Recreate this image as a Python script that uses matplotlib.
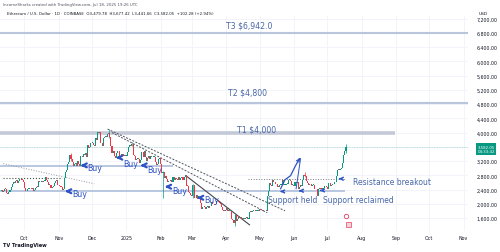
import matplotlib
matplotlib.use('Agg')
import matplotlib.pyplot as plt
import matplotlib.dates as mdates
import numpy as np
import pandas as pd

# ETH/USD daily closes, Sep 10 2024 - Jul 18 2025
sep24 = [2388, 2340, 2360, 2420, 2415, 2315, 2275, 2340, 2375, 2465, 2560, 2615, 2580, 2645, 2655, 2580, 2630, 2695, 2680, 2660, 2600]
oct24 = [2450, 2365, 2350, 2415, 2415, 2440, 2420, 2440, 2370, 2385, 2440, 2475, 2470, 2630, 2605, 2610, 2605, 2645, 2650, 2745,
         2665, 2620, 2525, 2535, 2435, 2480, 2505, 2570, 2640, 2665, 2520]
nov24 = [2515, 2490, 2460, 2400, 2425, 2720, 2895, 2960, 3130, 3185, 3370, 3245, 3185, 3060, 3110, 3135, 3075, 3205, 3105, 3070,
         3355, 3325, 3395, 3360, 3415, 3325, 3655, 3575, 3590, 3705]
dec24 = [3710, 3645, 3615, 3835, 3790, 4005, 4000, 4005, 3710, 3630, 3835, 3880, 3905, 3875, 3960, 3985, 3890, 3625, 3420, 3475,
         3330, 3280, 3420, 3490, 3475, 3330, 3330, 3400, 3350, 3360, 3335]
jan25 = [3355, 3450, 3605, 3655, 3635, 3685, 3380, 3330, 3220, 3270, 3280, 3265, 3135, 3225, 3450, 3310, 3475, 3310, 3215, 3280,
         3330, 3245, 3340, 3310, 3320, 3320, 3185, 3080, 3115, 3245, 3300]
feb25 = [3120, 2870, 2880, 2730, 2785, 2690, 2625, 2630, 2630, 2660, 2605, 2745, 2680, 2725, 2695, 2665, 2740, 2675, 2720, 2740,
         2665, 2765, 2820, 2505, 2495, 2330, 2310, 2235]
mar25 = [2215, 2520, 2150, 2175, 2240, 2140, 2205, 2205, 2020, 1865, 1920, 1910, 1865, 1910, 1935, 1890, 1925, 1930, 2055, 1985,
         1965, 1985, 2085, 2080, 2060, 2010, 2000, 1895, 1825, 1805, 1825]
apr25 = [1905, 1795, 1815, 1805, 1805, 1580, 1555, 1470, 1670, 1520, 1565, 1645, 1595, 1625, 1585, 1580, 1585, 1590, 1615, 1585,
         1585, 1755, 1795, 1770, 1785, 1820, 1795, 1800, 1800, 1795]
may25 = [1840, 1840, 1835, 1810, 1815, 1815, 1810, 2205, 2345, 2580, 2515, 2500, 2680, 2610, 2545, 2545, 2480, 2470, 2525, 2530,
         2550, 2665, 2525, 2530, 2550, 2565, 2660, 2680, 2630, 2530, 2530]
jun25 = [2505, 2605, 2590, 2610, 2420, 2485, 2525, 2510, 2680, 2815, 2770, 2645, 2580, 2525, 2545, 2550, 2510, 2525, 2525, 2410,
         2405, 2230, 2405, 2450, 2420, 2415, 2425, 2435, 2505, 2485]
jul25 = [2405, 2570, 2590, 2500, 2515, 2550, 2545, 2615, 2770, 2955, 2960, 2945, 2970, 3010, 3135, 3370, 3480, 3582]
first_open = 2360

# a few visible wicks
wick_dates = ['2024-11-12', '2024-12-16', '2025-01-06', '2025-02-03', '2025-03-02', '2025-04-09', '2025-06-11', '2025-07-18']
wick_lows = [3200, 3850, 3620, 2150, 2170, 1385, 2740, 3440]
wick_highs = [3440, 4107, 3745, 2920, 2550, 1690, 2880, 3677]

# levels: (label, price, start, end)
level_names = ['T3', 'T2', 'T1', 'sup_hi', 'sup_lo']
level_prices = [6810, 4830, 4000, 3050, 2347]
level_start = ['2024-09-09', '2024-09-09', '2024-09-09', '2024-09-09', '2024-09-09']
level_end = ['2025-11-05', '2025-11-05', '2025-08-31', '2025-02-12', '2025-07-17']

target_labels = ['T3 $6,942.0', 'T2 $4,800', 'T1 $4,000']
target_dates = ['2025-04-22', '2025-04-20', '2025-04-28']
target_prices = [7014, 5155, 4113]

buy_dates = ['2024-11-04', '2024-11-18', '2024-12-20', '2025-01-11', '2025-02-02', '2025-03-03']
buy_prices = [2352, 3079, 3296, 3079, 2479, 2169]
buy_text_prices = [2282, 3014, 3141, 2972, 2380, 2127]

sr_arrow_dates = ['2025-05-17', '2025-06-03', '2025-06-22', '2025-07-09']
sr_arrow_prices = [2346, 2366, 2375, 2704]
sr_labels = ['Support held', 'Support reclaimed', 'Resistance breakout']
sr_dates = ['2025-05-09', '2025-06-27', '2025-07-24']
sr_prices = [2121, 2121, 2620]

# trend lines ((date, price), (date, price), style)
trend_lines = [
    (('2024-09-12', 3127), ('2024-12-03', 2563), ':', '#9598a1', 0.7),
    (('2024-09-12', 2732), ('2024-11-04', 2732), ':', '#3d5a3d', 0.8),
    (('2024-12-15', 4099), ('2025-05-24', 1803), (0, (2, 1.5)), '#50535e', 0.7),
    (('2024-12-19', 4000), ('2025-05-08', 1746), (0, (2, 1.5)), '#50535e', 0.7),
    (('2025-02-24', 2780), ('2025-04-22', 1408), '-', '#434651', 0.8),
    (('2025-04-21', 2696), ('2025-07-18', 2696), ':', '#787b86', 0.7),
]

proj_dates = ['2025-05-20', '2025-05-24', '2025-05-29', '2025-06-02', '2025-06-06']
proj_prices = [2422, 2676, 2789, 3042, 3268]
proj_back = ['2025-06-03', 2422]

month_ticks = pd.date_range('2024-10-01', '2025-11-01', freq='MS')
month_labels = ['Oct', 'Nov', 'Dec', '2025', 'Feb', 'Mar', 'Apr', 'May', 'Jun', 'Jul', 'Aug', 'Sep', 'Oct', 'Nov']
price_ticks = [1600, 2000, 2400, 2800, 3200, 4000, 4400, 4800, 5200, 5600, 6000, 6400, 6800, 7200]
last_price = 3582.05

closes = np.array(sep24 + oct24 + nov24 + dec24 + jan25 + feb25 + mar25 + apr25 + may25 + jun25 + jul25, dtype=float)
dates = pd.date_range('2024-09-10', periods=len(closes), freq='D')
opens = np.concatenate([[first_open], closes[:-1]])
xd = mdates.date2num(dates)

up_col = '#089981'
dn_col = '#f23645'
blue = '#2f52c4'
steel = '#4866a8'

fig = plt.figure(figsize=(5, 2.53), dpi=100)
fig.patch.set_facecolor('white')
ax = fig.add_axes([0, 21 / 253, 468 / 500, 215 / 253])
ax.set_facecolor('white')

x0 = mdates.date2num(pd.Timestamp('2024-09-09'))
x1 = mdates.date2num(pd.Timestamp('2025-11-05'))
ax.set_xlim(x0, x1)
ax.set_ylim(1234, 7279)

# grid
for t in month_ticks:
    ax.axvline(mdates.date2num(t), color='#f0f3fa', lw=0.6, zorder=0)
for p in price_ticks + [3600]:
    ax.axhline(p, color='#f0f3fa', lw=0.6, zorder=0)

# levels
for name, p, s, e in zip(level_names, level_prices, level_start, level_end):
    xs = [mdates.date2num(pd.Timestamp(s)), mdates.date2num(pd.Timestamp(e))]
    if name == 'T1':
        ax.plot(xs, [p, p], color='#c3c9d6', lw=2.6, solid_capstyle='butt', zorder=1)
    elif name.startswith('T'):
        ax.plot(xs, [p, p], color='#b9c5da', lw=1.5, solid_capstyle='butt', zorder=1)
    else:
        ax.plot(xs, [p, p], color='#a7b8d8', lw=1.1, solid_capstyle='butt', zorder=1)

# last price line
ax.axhline(last_price, color='#a6d8cf', lw=0.6, ls=(0, (1, 1)), zorder=1)

for (d0, p0), (d1, p1), ls, col, lw in trend_lines:
    ax.plot([mdates.date2num(pd.Timestamp(d0)), mdates.date2num(pd.Timestamp(d1))], [p0, p1],
            ls=ls, color=col, lw=lw, zorder=2)

# candles
colors = np.where(closes >= opens, up_col, dn_col)
wx = mdates.date2num(pd.to_datetime(wick_dates))
for d, lo, hi in zip(wx, wick_lows, wick_highs):
    i = int(round(d - xd[0]))
    ax.vlines(d, lo, hi, color=colors[i], lw=0.5, zorder=3)
bottoms = np.minimum(opens, closes)
heights = np.maximum(np.abs(closes - opens), 22)
ax.bar(xd, heights, bottom=bottoms, width=0.95, color=colors, linewidth=0, zorder=3)

# projection path
px = mdates.date2num(pd.to_datetime(proj_dates))
ax.plot(px, proj_prices, color=blue, lw=0.9, zorder=4)
ax.annotate('', xy=(px[-1] + 0.5, proj_prices[-1] + 20), xytext=(px[-2] + 2, proj_prices[-2] + 120),
            arrowprops=dict(arrowstyle='->', color=blue, lw=0.9, mutation_scale=5), zorder=4)
ax.plot([px[-1] + 1, mdates.date2num(pd.Timestamp(proj_back[0]))], [proj_prices[-1], proj_back[1]],
        color=blue, lw=0.7, zorder=4)

# targets
for lab, d, p in zip(target_labels, target_dates, target_prices):
    ax.text(mdates.date2num(pd.Timestamp(d)), p, lab, color=steel, fontsize=5.6, ha='center', va='center', zorder=5)

# buy arrows
for d, p, tp in zip(buy_dates, buy_prices, buy_text_prices):
    xt = mdates.date2num(pd.Timestamp(d))
    ax.annotate('', xy=(xt, p), xytext=(xt + 8.5, p),
                arrowprops=dict(arrowstyle='->', color=blue, lw=1.6, mutation_scale=7), zorder=5)
    ax.text(xt + 9, tp, 'Buy', color=blue, fontsize=5.7, ha='left', va='center', zorder=5)

for d, p in zip(sr_arrow_dates, sr_arrow_prices):
    xt = mdates.date2num(pd.Timestamp(d))
    ax.annotate('', xy=(xt, p), xytext=(xt + 6, p),
                arrowprops=dict(arrowstyle='->', color=blue, lw=1.1, mutation_scale=5), zorder=5)

for lab, d, p in zip(sr_labels, sr_dates, sr_prices):
    ax.text(mdates.date2num(pd.Timestamp(d)), p, lab, color=steel, fontsize=5.5, ha='left', va='center', zorder=5)

# event markers
ev = mdates.date2num(pd.Timestamp('2025-07-18'))
ax.plot(ev, 1662, 'o', ms=3.2, mfc='white', mec='#e04060', mew=0.6, zorder=5)
ax.plot(ev + 2, 1420, 's', ms=3.6, mfc='#f8d0d8', mec='#e04060', mew=0.5, zorder=5)

# axes styling
ax.set_xticks(mdates.date2num(month_ticks))
ax.set_xticklabels(month_labels)
ax.set_yticks(price_ticks)
ax.set_yticklabels([f'{p:,.2f}' for p in price_ticks])
ax.yaxis.tick_right()
ax.tick_params(axis='x', length=0, pad=3, labelsize=3.4, labelcolor='#131722')
ax.tick_params(axis='y', length=0, pad=6, labelsize=3.4, labelcolor='#131722')
for s in ax.spines.values():
    s.set_visible(False)

# price box
fig.text(486 / 500, 1 - 150 / 253, '3,582.05\n04:33:42', color='white', fontsize=2.8, ha='center', va='center',
         linespacing=1.1, bbox=dict(boxstyle='square,pad=0.35', fc=up_col, ec='none'))
fig.text(483 / 500, 1 - 14 / 253, 'USD', color='#131722', fontsize=3.2, ha='center', va='center')

# header / footer
fig.text(3 / 500, 1 - 5 / 253, 'IncomeSharks created with TradingView.com, Jul 18, 2025 19:26 UTC',
         color='#50535e', fontsize=2.8, ha='left', va='center')
fig.text(7 / 500, 1 - 14 / 253, 'Ethereum / U.S. Dollar · 1D · COINBASE  O3,479.78  H3,677.42  L3,441.66  C3,582.05  +102.28 (+2.94%)',
         color='#131722', fontsize=2.8, ha='left', va='center')
fig.text(3 / 500, 1 - 246 / 253, 'TV TradingView', color='#131722', fontsize=3.6, fontweight='bold', ha='left', va='center')

fig.savefig('out.png', dpi=100, facecolor='white')
